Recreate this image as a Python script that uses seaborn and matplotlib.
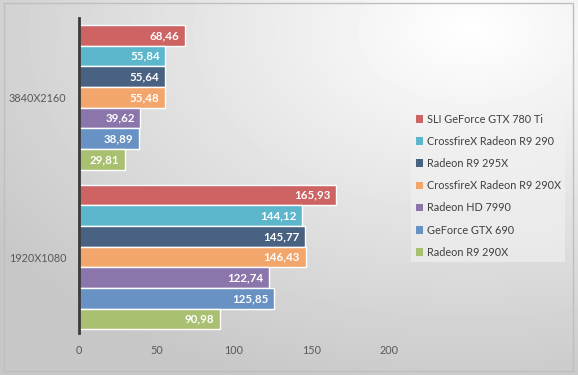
import numpy as np
import pandas as pd
import seaborn as sns
import matplotlib.pyplot as plt
from matplotlib.patches import Rectangle

# Datos del gráfico
resoluciones = ['3840X2160', '1920X1080']
tarjetas = ['SLI GeForce GTX 780 Ti', 'CrossfireX Radeon R9 290', 'Radeon R9 295X',
            'CrossfireX Radeon R9 290X', 'Radeon HD 7990', 'GeForce GTX 690', 'Radeon R9 290X']
fps_4k = [68.46, 55.84, 55.64, 55.48, 39.62, 38.89, 29.81]
fps_1080 = [165.93, 144.12, 145.77, 146.43, 122.74, 125.85, 90.98]
colores = ['#CD6363', '#5CB7CD', '#4A6282', '#F3A66B', '#8B76AB', '#6892C3', '#A9C071']
xticks = [0, 50, 100, 150, 200]

data = pd.DataFrame({
    'Resolución': [resoluciones[0]] * 7 + [resoluciones[1]] * 7,
    'Tarjeta': tarjetas * 2,
    'FPS': fps_4k + fps_1080,
})

sns.set_style('white')
plt.rcParams['font.family'] = ['Lato', 'DejaVu Sans']

fig = plt.figure(figsize=(5.78, 3.75), dpi=100)

# fondo degradado tipo Excel
bg = fig.add_axes([0, 0, 1, 1], zorder=-1)
yy, xx = np.mgrid[0:375, 0:578]
r = np.sqrt(((xx - 470) / 578.0) ** 2 + ((yy - 30) / 375.0) ** 2)
g = np.clip(1.0 - 0.22 * r, 0.78, 1.0)
bg.imshow(g, cmap='gray', vmin=0, vmax=1, extent=[0, 578, 375, 0], aspect='auto')
bg.add_patch(Rectangle((4, 3), 569, 368, fill=False, edgecolor='#BFBFBF', lw=1))
bg.set_xlim(0, 578)
bg.set_ylim(375, 0)
bg.axis('off')

ax = fig.add_axes([79 / 578, 1 - 333 / 375, (565 - 79) / 578, 315 / 375])
ax.patch.set_alpha(0)
sns.barplot(data=data, y='Resolución', x='FPS', hue='Tarjeta', hue_order=tarjetas,
            order=resoluciones, palette=colores, orient='h', width=0.905,
            edgecolor='white', linewidth=1, saturation=1, ax=ax, legend=True)

for cont in ax.containers:
    labels = [f'{v:.2f}'.replace('.', ',') for v in cont.datavalues]
    txts = ax.bar_label(cont, labels=labels, padding=-4, color='white',
                        fontsize=8.3, fontweight='bold')
    for t in txts:
        t.set_ha('right')

ax.set_xlim(0, 314)
ax.set_ylim(1.475, -0.497)
ax.set_xticks(xticks)
ax.set_xlabel('')
ax.set_ylabel('')
for s in ['top', 'right', 'bottom']:
    ax.spines[s].set_visible(False)
ax.spines['left'].set_color('#3A3A3A')
ax.spines['left'].set_linewidth(2)
ax.tick_params(axis='x', length=0, pad=9, labelsize=7.8, labelcolor='#595959')
ax.tick_params(axis='y', length=0, pad=9, labelsize=7.8, labelcolor='#595959')

leg = ax.legend(loc='upper left', bbox_to_anchor=(406 / 578, 1 - 104 / 375),
                bbox_transform=fig.transFigure, frameon=True, fontsize=7.8,
                handlelength=0.7, handleheight=0.7, handletextpad=0.3,
                labelspacing=1.03, borderpad=0.4, fancybox=False)
leg.get_frame().set_facecolor('#F2F2F2')
leg.get_frame().set_edgecolor('none')
leg.get_frame().set_alpha(0.6)
for t in leg.get_texts():
    t.set_color('#404040')
for h in leg.legend_handles:
    h.set_edgecolor('none')

fig.savefig('out.png', dpi=100)
